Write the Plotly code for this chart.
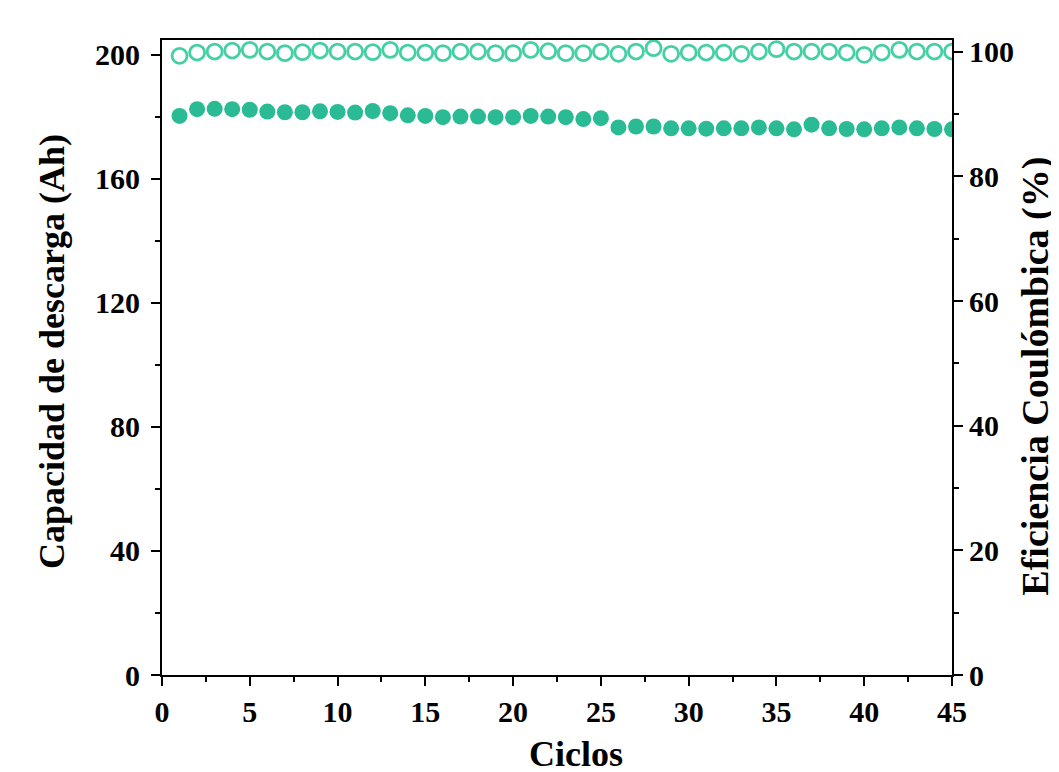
import plotly.graph_objects as go

cycles = list(range(1, 46))
capacity = [180.3, 182.5, 182.6, 182.5, 182.3, 181.7, 181.5, 181.5, 181.8, 181.6,
            181.4, 181.9, 181.2, 180.5, 180.3, 179.9, 180.1, 180.1, 179.9, 179.9,
            180.3, 180.1, 179.9, 179.3, 179.6, 176.6, 176.9, 176.9, 176.3, 176.3,
            176.2, 176.3, 176.3, 176.6, 176.3, 176.0, 177.5, 176.3, 176.1, 176.0,
            176.3, 176.6, 176.3, 176.1, 176.0]
efficiency = [99.36, 99.89, 100.05, 100.21, 100.32, 100.05, 99.79, 99.95, 100.21, 100.05,
              100.05, 99.95, 100.32, 99.89, 99.89, 99.79, 100.05, 100.05, 99.79, 99.79,
              100.32, 100.1, 99.79, 99.79, 100.05, 99.68, 100.05, 100.59, 99.68, 99.89,
              99.89, 99.89, 99.68, 100.05, 100.43, 100.05, 100.05, 100.05, 99.89, 99.52,
              99.89, 100.32, 100.05, 100.05, 100.05]

FONT = "Liberation Serif"

fig = go.Figure()
fig.add_trace(go.Scatter(
    x=cycles, y=capacity, mode="markers", yaxis="y",
    marker=dict(symbol="circle", size=16, color="#2ABB94", line=dict(width=0)),
    showlegend=False))
fig.add_trace(go.Scatter(
    x=cycles, y=efficiency, mode="markers", yaxis="y2",
    marker=dict(symbol="circle-open", size=15, color="#45CFA5", line=dict(width=2.8)),
    showlegend=False))

tickfont = dict(family=FONT, size=30, color="black", weight="bold")

def tfont(size):
    return dict(family=FONT, size=size, color="black", weight="bold")

fig.update_layout(
    width=1059, height=772,
    margin=dict(l=154, r=115, t=32, b=105),
    paper_bgcolor="white", plot_bgcolor="white",
    xaxis=dict(
        range=[0, 45], tickvals=[0, 5, 10, 15, 20, 25, 30, 35, 40, 45],
        ticks="outside", ticklen=9, tickwidth=2, tickcolor="black",
        minor=dict(dtick=2.5, tick0=0, ticks="outside", ticklen=5, tickwidth=2, tickcolor="black"),
        showline=True, linewidth=2, linecolor="black", mirror=True,
        showgrid=False, zeroline=False, tickfont=tickfont),
    yaxis=dict(
        range=[0, 204.8], tickvals=[0, 40, 80, 120, 160, 200],
        ticks="outside", ticklen=9, tickwidth=2, tickcolor="black", ticklabelstandoff=5,
        minor=dict(dtick=20, tick0=0, ticks="outside", ticklen=5, tickwidth=2, tickcolor="black"),
        showline=True, linewidth=2, linecolor="black",
        showgrid=False, zeroline=False, tickfont=tickfont),
    yaxis2=dict(
        range=[0, 101.9], tickvals=[0, 20, 40, 60, 80, 100], overlaying="y", side="right",
        ticks="outside", ticklen=9, tickwidth=2, tickcolor="black",
        minor=dict(dtick=10, tick0=0, ticks="outside", ticklen=5, tickwidth=2, tickcolor="black"),
        showline=True, linewidth=2, linecolor="black",
        showgrid=False, zeroline=False, tickfont=tickfont),
    annotations=[
        dict(text="Ciclos", xref="paper", yref="paper", x=0.524, y=-0.124,
             xanchor="center", yanchor="middle", showarrow=False, font=tfont(36)),
        dict(text="Capacidad de descarga (Ah)", xref="paper", yref="paper", x=-0.139, y=0.509,
             xanchor="center", yanchor="middle", textangle=-90, showarrow=False, font=tfont(36)),
        dict(text="Eficiencia Coulómbica (%)", xref="paper", yref="paper", x=1.106, y=0.471,
             xanchor="center", yanchor="middle", textangle=-90, showarrow=False, font=tfont(38)),
    ],
)

fig.write_html("out.html")
